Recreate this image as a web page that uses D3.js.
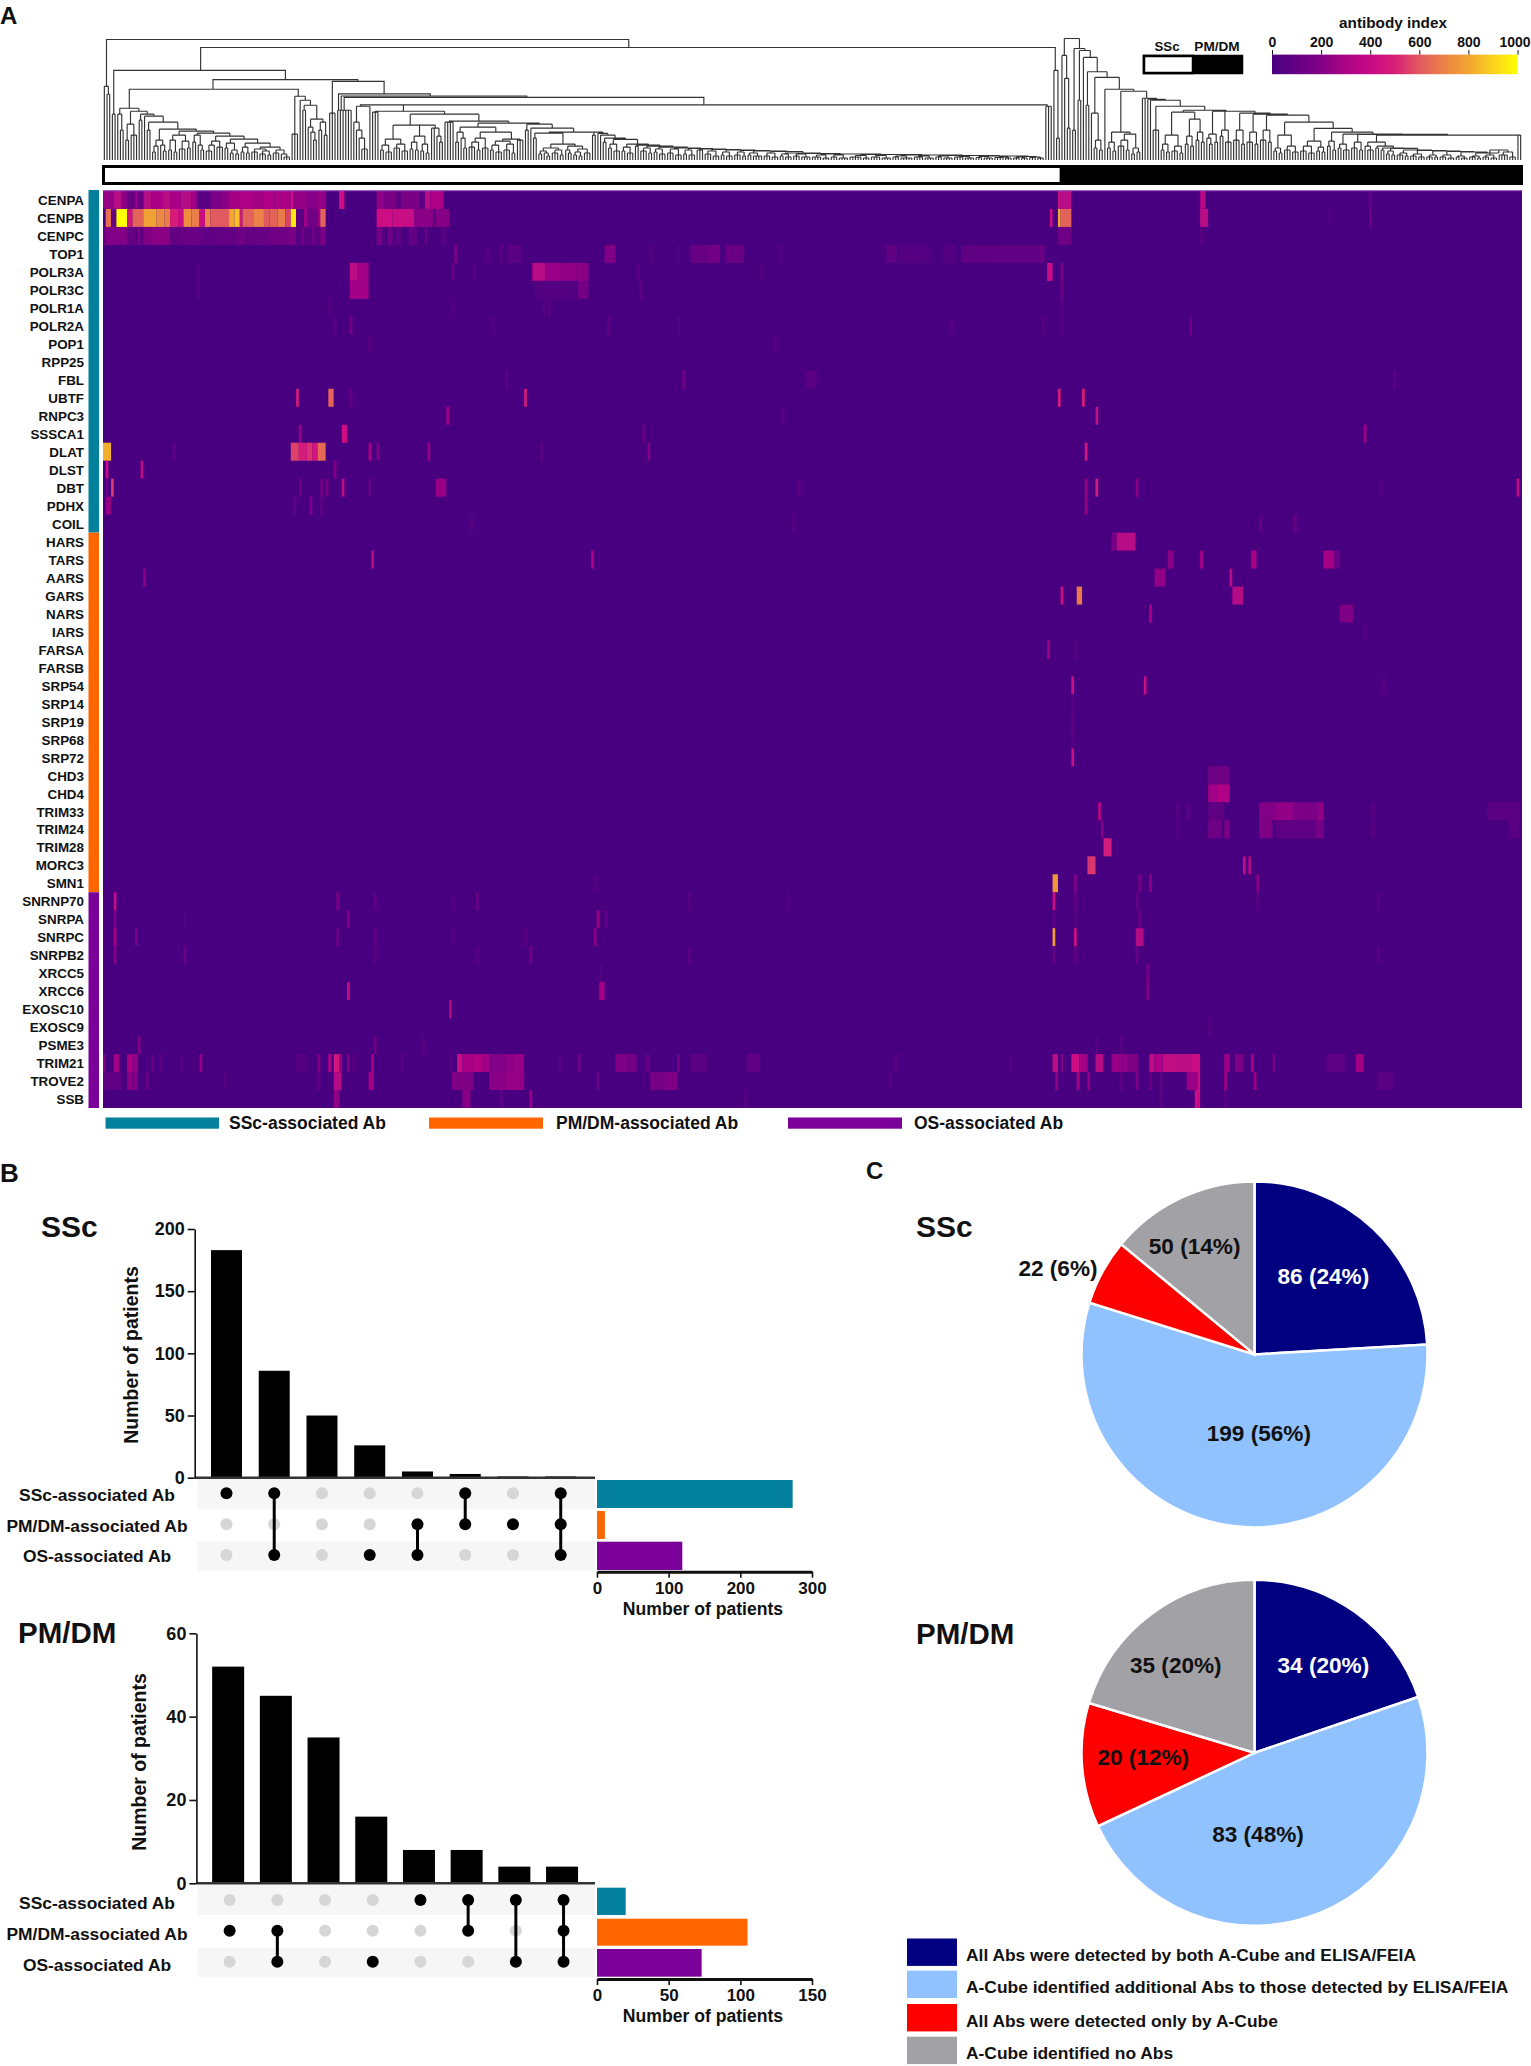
<!DOCTYPE html>
<html><head><meta charset="utf-8">
<script src="https://cdn.jsdelivr.net/npm/d3@7"></script>
<style>
html,body{margin:0;padding:0;background:#fff}
svg{display:block}
text{font-family:"Liberation Sans",Arial,sans-serif;font-weight:bold;fill:#111}
.ax path,.ax line{stroke:#111}
</style></head><body>
<svg id="c" width="1531" height="2066"></svg>
<script>
// ---------- DATA ----------
const rowNames=["CENPA","CENPB","CENPC","TOP1","POLR3A","POLR3C","POLR1A","POLR2A","POP1","RPP25","FBL","UBTF","RNPC3","SSSCA1","DLAT","DLST","DBT","PDHX","COIL",
"HARS","TARS","AARS","GARS","NARS","IARS","FARSA","FARSB","SRP54","SRP14","SRP19","SRP68","SRP72","CHD3","CHD4","TRIM33","TRIM24","TRIM28","MORC3","SMN1",
"SNRNP70","SNRPA","SNRPC","SNRPB2","XRCC5","XRCC6","EXOSC10","EXOSC9","PSME3","TRIM21","TROVE2","SSB"];
const groupNames=["SSc-associated Ab","PM/DM-associated Ab","OS-associated Ab"];
const groupSizes=[19,20,12];
const sscPatients=357, pmdmPatients=172;
const antibodyTicks=[0,200,400,600,800,1000];
const colorStops=[0,100,200,300,400,500,600,700,800,900,1000];
const colorValues=["#4a0080","#640084","#820085","#aa0585","#c80a85","#d71e78","#e15a5f","#eb8246","#f2a532","#fad21e","#ffff00"];

// each entry: [firstPatient, lastPatient, index] or [patient, index]
const segCENPA=[[0,4,250],[4,7,340],[7,9,220],[9,12,110],[12,13,260],[13,15,110],[15,18,330],[18,22,300],[22,25,340],[25,29,300],[29,33,330],[33,35,280],[35,40,60],[40,44,170],[44,47,220],[47,51,290],[51,56,310],[56,60,280],[60,64,320],[64,70,300],[70,71,410],[71,76,240],[76,80,200],[80,83,250],[83,84,30],[88,90,430],[102,105,230],[105,109,170],[109,111,80],[111,118,170],[118,120,70],[120,122,350],[122,127,310],[356,361,350],[409,411,340],[472,100]];
const segCENPB=[[1,3,650],[3,5,100],[5,9,1000],[9,11,450],[11,15,620],[15,20,790],[20,23,720],[23,25,690],[25,28,500],[28,30,420],[30,33,730],[33,36,690],[36,38,400],[38,40,700],[40,47,600],[47,49,800],[49,51,860],[51,52,450],[52,56,620],[56,60,700],[60,62,600],[62,65,620],[65,68,680],[68,70,560],[70,72,950],[72,75,60],[75,76,300],[76,80,140],[80,81,260],[81,83,620],[102,108,430],[108,116,400],[116,123,220],[123,124,80],[124,129,210],[353,400],[356,357,800],[357,361,620],[409,412,350],[457,40],[472,120]];
const segCENPC=[[0,1,110],[1,9,200],[9,12,100],[12,13,50],[13,14,200],[14,15,60],[15,18,190],[18,25,220],[25,29,100],[29,37,120],[37,42,90],[42,50,100],[50,53,140],[53,56,100],[56,62,110],[62,69,140],[69,72,170],[72,74,60],[74,75,150],[75,78,60],[78,79,150],[79,81,70],[81,83,180],[102,104,150],[104,105,50],[106,108,130],[109,111,90],[114,117,100],[120,121,110],[126,128,60],[356,361,130],[409,60]];
const segTOP1=[[131,200],[143,60],[148,70],[151,156,70],[187,191,190],[204,50],[214,50],[219,226,110],[226,230,150],[232,239,115],[252,70],[292,296,85],[297,308,40],[313,318,40],[320,332,75],[332,349,85],[349,351,125]];
const segPOLR3A=[[35,60],[92,95,360],[95,99,280],[130,110],[138,60],[160,165,340],[165,171,260],[171,176,240],[176,181,220],[199,70],[245,60],[352,354,400],[357,170]];
const segPOLR3C=[[35,60],[92,99,280],[161,176,35],[177,181,150],[200,90],[357,130]];
const segPOLR1A=[[84,50],[130,40],[164,50],[166,50],[357,70]];
const segPOLR2A=[[86,70],[92,150],[145,40],[188,100],[214,60],[316,60],[350,60],[357,60],[405,130]];
const segPOP1=[[99,60],[250,60]];
const segRPP25=[];
const segFBL=[[150,60],[216,150],[262,266,60],[481,60]];
const segUBTF=[[72,480],[84,86,620],[92,100],[157,470],[356,480],[365,500]];
const segRNPC3=[[128,280],[253,60],[370,400]];
const segSSSCA1=[[73,250],[89,91,430],[201,100],[470,280]];
const segDLAT=[[0,3,820],[26,90],[70,73,560],[73,76,480],[76,78,530],[78,80,470],[80,83,640],[99,300],[102,180],[121,122,250],[163,60],[203,210],[366,450]];
const segDLST=[[1,400],[14,350],[86,200]];
const segDBT=[[1,100],[3,550],[73,120],[81,150],[83,180],[89,350],[99,100],[124,128,260],[259,80],[366,250],[370,480],[385,220],[476,50],[527,350]];
const segPDHX=[[1,3,250],[71,100],[77,180],[81,90],[366,250]];
const segCOIL=[[137,60],[257,50],[431,100],[444,110]];
const segHARS=[[376,378,180],[378,385,340]];
const segTARS=[[100,350],[182,320],[397,399,220],[409,300],[428,430,300],[455,459,290],[459,461,130]];
const segAARS=[[15,220],[392,396,240],[420,350]];
const segGARS=[[357,430],[363,365,680],[421,425,330]];
const segNARS=[[390,300],[461,466,190]];
const segIARS=[[470,50]];
const segFARSA=[[352,280],[362,60]];
const segFARSB=[];
const segSRP54=[[361,420],[388,420],[477,60]];
const segSRP14=[[361,60]];
const segSRP19=[[361,100]];
const segSRP68=[[361,60]];
const segSRP72=[[361,400]];
const segCHD3=[[412,420,140]];
const segCHD4=[[412,415,280],[415,420,320]];
const segTRIM33=[[371,372,350],[400,70],[404,90],[412,418,75],[431,437,200],[437,444,240],[444,453,180],[453,455,240],[473,60],[516,528,70]];
const segTRIM24=[[372,200],[400,40],[412,417,140],[418,420,190],[431,436,190],[437,452,75],[452,455,150],[473,60],[524,528,60]];
const segTRIM28=[[373,376,480]];
const segMORC3=[[367,370,540],[425,426,380],[427,428,330]];
const segSMN1=[[183,50],[354,356,760],[362,200],[386,170],[390,220],[430,220]];
const segSNRNP70=[[4,380],[87,170],[101,90],[130,40],[139,120],[218,50],[255,40],[354,400],[362,100],[385,100],[430,60],[475,60]];
const segSNRPA=[[4,170],[30,50],[91,200],[184,260],[187,90],[354,70],[362,60],[386,110]];
const segSNRPC=[[4,300],[12,170],[87,120],[101,80],[130,50],[157,50],[183,220],[354,780],[362,430],[385,388,330]];
const segSNRPB2=[[4,210],[30,130],[101,70],[139,50],[159,130],[218,70],[354,100],[362,100],[385,120],[475,70]];
const segXRCC5=[[185,60],[389,170]];
const segXRCC6=[[91,380],[185,187,300],[389,200]];
const segEXOSC10=[[129,330]];
const segEXOSC9=[[412,60]];
const segPSME3=[[13,200],[101,130],[119,60],[370,60],[379,60]];
const segTRIM21=[[0,1,180],[4,6,280],[9,11,300],[11,13,250],[18,110],[21,80],[29,60],[36,260],[72,76,40],[80,200],[84,320],[86,88,450],[88,89,280],[91,200],[93,60],[100,300],[111,70],[129,60],[132,134,400],[134,138,300],[138,141,320],[141,144,280],[144,150,200],[150,153,230],[153,157,250],[170,60],[177,150],[191,195,190],[195,199,160],[202,204,80],[214,140],[219,225,70],[240,245,90],[295,80],[338,45],[354,356,360],[357,200],[361,364,430],[364,367,280],[370,373,340],[376,379,260],[379,382,230],[382,386,190],[390,392,360],[392,395,320],[395,400,380],[400,406,360],[406,409,430],[418,420,270],[422,425,190],[428,300],[436,150],[456,463,80],[467,470,280]];
const segTROVE2=[[0,7,90],[9,11,230],[11,13,200],[16,120],[45,50],[80,90],[86,89,330],[99,101,280],[130,138,190],[144,150,220],[150,157,250],[184,120],[204,209,160],[209,214,190],[293,50],[355,240],[363,290],[367,230],[379,90],[385,200],[390,110],[394,90],[404,408,260],[408,409,400],[418,270],[429,270],[475,481,60]];
const segSSB=[[86,88,240],[134,137,220],[148,90],[159,260],[239,60],[394,80],[407,409,400],[418,60]];
const heatRows=[segCENPA,segCENPB,segCENPC,segTOP1,segPOLR3A,segPOLR3C,segPOLR1A,segPOLR2A,segPOP1,segRPP25,segFBL,segUBTF,segRNPC3,segSSSCA1,segDLAT,segDLST,segDBT,segPDHX,segCOIL,segHARS,segTARS,segAARS,segGARS,segNARS,segIARS,segFARSA,segFARSB,segSRP54,segSRP14,segSRP19,segSRP68,segSRP72,segCHD3,segCHD4,segTRIM33,segTRIM24,segTRIM28,segMORC3,segSMN1,segSNRNP70,segSNRPA,segSNRPC,segSNRPB2,segXRCC5,segXRCC6,segEXOSC10,segEXOSC9,segPSME3,segTRIM21,segTROVE2,segSSB];

// Dendrogram: [height, child, child, ...]; a plain number n is n leaves joined at that node
const chain=(list,end)=>list.reduceRight((acc,[h,l])=>[h,l,acc],end);
const sscTail=chain([[26.7,1],[25,1],[22,[18,2]],[20.7,[16,[12,2],[9,3]]],[16,[13,[9,2],[7,3]]],[15,[14,2]],[14,[12,[9,3],[7,2]]],[13,[11,[8,2],[6,3]]],[12,[11,[7,3],[5,3]]],[11.5,[10,[6,2],[5,3]]],[11,[10,3]],[10.5,[9,[6,3],[4,3]]],[10,[8,[5,2],[4,3]]],[9.5,[8,[5,3],[4,2]]],[9,[7,[5,2],[4,4]]],[8.5,[7,[4,3],[3,3]]],[7,[6,[4,2],[3,3]]],[6.5,[6,[4,3],[3,4]]],[6,[5,[3,4],[2,3]]],[6,[5,[3,3],[2,4]]],[5.5,[4.5,[3,5],[2,3]]],[5.5,[4.5,[3,4],[2,4]]],[5,[4,[3,3],[2,5]]],[5,[4,[3,4],[2,4]]],[4.5,[4,[3,3],[2,4]]],[4.5,[3.5,[3,4],[2,4]]],[4,[3.5,[2.5,3],[2,4]]],[4,[3,[2.5,4],[2,3]]],[3.5,[3,[2,3],[2,3]]]],[3,[2.5,3],[2,3]]);
const sscN1=chain([[36,[30,2]],[32,1]],[28,[27,[22,2],[16,[12,[9,[6,2],[7,1,[4,2]]],[10,[7,3],[5,2]]],[14,[10,1,[7,2]],[11,[8,[5,2],[4,2]],[7,3]]]]],[28,[25,2],sscTail]]);
const sscW4=[28,[22,[18,[13,3],[10,2]],[12,3]],[21,[19,[15,[10,2],[8,3]],[16,[10,3],[7,2]]],[20,3]]];
const sscW=[46,[35,[21,[15,[10,2],[8,3]],[16,[12,3],[9,3]]],[35,[24,[18,[11,2],[10,2]],[16,[9,2],[7,2]]],[32,2,[24,1,[18,2]]]]],[39,[38,4],[37,[33,[28,[18,2],[22,1,[12,2]]],sscW4],sscN1]]];
const sscDLeft=[52,[46,1,[30,2]],[49,[36,[20,2],[25,3]],[46,[40,2],[44,1,[38,[30,2],[31,[20,[14,[8,2],1],[15,1,[9,2]]],[29,[25,[20,[10,2],[8,2]],[19,[11,3],[12,2]]],[27,[25,[18,2],[15,1,[10,2]]],[24,[19,[15,[9,3],1],[13,3]],[21,[17,[12,2],[10,[7,2],[6,2]]],[17,[13,[8,2],[7,2]],[13,[11,[8,3],[9,[6,3],[5,2]]],[10,[7,3],[6,1,[3,3]]]]]]]]]]]]]]];
const dendroSSc=[[74,1,[66,2]],[46,2],sscDLeft,[64,[26,3],[60,1,[55,[50,2],[41,[33,1,[28,1,[20,2]]],[38,[30,2],[25,2]]]]]],[47,3],[50,6],[54,[38,1,[30,1,[22,1,[11,3]]]],1],[49,[48,3],sscW],[54,3],[90,1,[22,2]]];
// long upper branches of the SSc tree: [height, leftPatient, rightPatient, leftFoot, rightFoot]
const dendroSpine=[[121,1.3,196,74,113],[113,36.4,355,90,90],[90,4,68,46,80.7],[80.7,41,95,71,79],[71,9.8,72.8,52,64],[79,85.5,104.8,47,66.4],[66.4,87.8,122,50,64.3],[64.3,88.8,158,50,62.9],[62.9,89.9,224,50,55.4],[55.4,96,352,54,54],[55.4,112,112,49,49]];

const pmR2=chain([[18,[14,1,[10,3]]],[14,[12,2]],[12,[10,2]],[11.7,[9,[6,2],[5,2]]],[10,[7,[5,3],[4,2]]],[9.5,[6,[4,3],[3,3]]],[9,[5,[3,3],[3,2]]],[8.5,[5,[3,3],[2,3]]],[8,[4,[3,2],[2,3]]],[7,[4,[3,3],[2,2]]]],[10,[5,[3,3],[2,3]],[8,[5,4],[3,3]]]);
const dendroPM=[122,[105,1,[82,1,[32,2]]],[112,[30,2],[110,[60,2],chain([[103,1],[88.6,[55,2]],[83,[47,1,[20,[12,2],[10,2]]]],[71,1],[69,[28,[18,[12,2],[9,2]],[26,[20,[14,3],[10,2]],[12,[6,2],[8,2]]]]],[62,1],[62,1],[61,1],[60,1],[54,[30,3]],[50,[48,[25,[16,[10,2],[8,2]],[14,[9,3],[7,2]]],[41,[24,[16,2],[14,2]],[28,[20,2],[18,2]]]]],[49,[26,[22,1,[16,2]],[18,2]]],[49,[30,[24,2],[18,3]]],[47,[30,[20,3],[16,2]]],[46,[28,[18,3],[16,2]]],[45,[30,[20,3],[18,2]]],[38,[25,[12,[9,2],[7,2]],[14,[10,3],[8,3]]]],[31.7,[19,[14,[9,3],[7,3]],[13,[9,2],[8,2]]]],[28,[19,[14,2],[10,2]]],[26,[16,[12,2],[10,3]]],[25.7,[18,[12,3],[10,2]]]],[25,pmR2,[25,2]])]]];

const upsetSets=["SSc-associated Ab","PM/DM-associated Ab","OS-associated Ab"];
const sscCounts=[183,86,50,26,5,3,1,1];
const sscMembers=[[0],[0,2],[],[2],[1,2],[0,1],[1],[0,1,2]];
const sscSetSizes=[273,11,119];
const sscYTicks=[0,50,100,150,200];
const sscXTicks=[0,100,200,300];
const pmCounts=[52,45,35,16,8,8,4,4];
const pmMembers=[[1],[1,2],[],[2],[0],[0,1],[0,2],[0,1,2]];
const pmSetSizes=[20,105,73];
const pmYTicks=[0,20,40,60];
const pmXTicks=[0,50,100,150];

const pieCategories=["All Abs were detected by both A-Cube and ELISA/FEIA","A-Cube identified additional Abs to those detected by ELISA/FEIA","All Abs were detected only by A-Cube","A-Cube identified no Abs"];
const pieSSc=[86,199,22,50];
const piePM=[34,83,20,35];
const piePercentSSc=[24,56,6,14];
const piePercentPM=[20,48,12,20];
const pieColors=["#000080","#90c2ff","#ff0000","#a1a1a6"];
const groupColors=["#02809c","#ff6600","#7a0099"];

// ---------- DRAW ----------
const svg=d3.select("#c");
const L={hx0:103,hx1:1522,hy0:191,hy1:1108};
const x=d3.scaleLinear().domain([0,sscPatients+pmdmPatients]).range([L.hx0,L.hx1]);
const y=d3.scaleBand().domain(rowNames).range([L.hy0,L.hy1]);
const color=d3.scaleLinear().domain(colorStops).range(colorValues).clamp(true);
const text=(g,t,px,py,size,anchor="start",fill="#111")=>g.append("text").attr("x",px).attr("y",py).attr("font-size",size).attr("text-anchor",anchor).style("fill",fill).text(t);

text(svg,"A",0,24,24); text(svg,"B",0,1182,26); text(svg,"C",866,1179,24);

const defs=svg.append("defs");
defs.append("clipPath").attr("id","hclip").append("rect").attr("x",L.hx0).attr("y",L.hy0).attr("width",L.hx1-L.hx0).attr("height",L.hy1-L.hy0);
defs.append("filter").attr("id","soft").attr("filterUnits","userSpaceOnUse").attr("x",L.hx0-5).attr("y",L.hy0-5).attr("width",L.hx1-L.hx0+10).attr("height",L.hy1-L.hy0+10)
  .append("feGaussianBlur").attr("stdDeviation","0.75 0.5");

// heatmap
const hm=svg.append("g");
hm.append("rect").attr("x",L.hx0).attr("y",L.hy0).attr("width",L.hx1-L.hx0).attr("height",L.hy1-L.hy0).attr("fill",color(0));
const hmCells=hm.append("g").attr("clip-path","url(#hclip)").append("g").attr("filter","url(#soft)");
hmCells.append("rect").attr("x",L.hx0).attr("y",L.hy0).attr("width",L.hx1-L.hx0).attr("height",L.hy1-L.hy0).attr("fill",color(0));
heatRows.forEach((segs,i)=>{
  hmCells.selectAll(null).data(segs).join("rect")
    .attr("x",d=>x(d[0]))
    .attr("width",d=>d.length===2?x(d[0]+1)-x(d[0]):x(d[1])-x(d[0]))
    .attr("y",y(rowNames[i])).attr("height",y.bandwidth())
    .attr("fill",d=>color(d[d.length-1]));
});
hm.append("rect").attr("x",L.hx0).attr("y",L.hy0-1).attr("width",L.hx1-L.hx0).attr("height",1.2).attr("fill","#9a5cc0");
hm.selectAll(null).data(rowNames).join("text").attr("x",84).attr("y",d=>y(d)+y.bandwidth()/2+0.5).attr("dy",".35em").attr("text-anchor","end").attr("font-size",13.4).text(d=>d);
// side bar
let start=0;
groupSizes.forEach((n,i)=>{
  const a=y(rowNames[start]),b=y(rowNames[start+n-1])+y.bandwidth();
  svg.append("rect").attr("x",88.5).attr("width",10.5).attr("y",a-(i?0:1)).attr("height",b-a+(i?0:1)).attr("fill",groupColors[i]);
  start+=n;
});
// group legend
const leg=[[105.5,219,229],[429,543,556],[788,902,914]];
groupNames.forEach((n,i)=>{
  svg.append("rect").attr("x",leg[i][0]).attr("y",1117.5).attr("width",leg[i][1]-leg[i][0]).attr("height",11.2).attr("fill",groupColors[i]);
  text(svg,n,leg[i][2],1129,17.5);
});

// annotation bar
svg.append("rect").attr("x",x(0)+.5).attr("y",166.5).attr("width",x(sscPatients)-x(0)).attr("height",17).attr("fill","#fff").attr("stroke","#000").attr("stroke-width",3);
svg.append("rect").attr("x",x(sscPatients)).attr("y",165).attr("width",x(sscPatients+pmdmPatients)-x(sscPatients)+1).attr("height",20).attr("fill","#000");

// dendrogram
const hy=d3.scaleLinear().domain([0,121]).range([160,39.5]);
const toNode=s=>{
  if(typeof s==="number") return {h:0};
  const kids=[];
  s.slice(1).forEach(c=>{ if(typeof c==="number"){for(let i=0;i<c;i++)kids.push({h:0});} else kids.push(toNode(c)); });
  return {h:s[0],children:kids};
};
let leafIndex=0;
const drawTree=(spec,g)=>{
  const root=d3.hierarchy(toNode(spec));
  root.eachAfter(n=>{
    if(!n.children){n.px=leafIndex+.5;leafIndex++;}
    else n.px=(n.children[0].px+n.children[n.children.length-1].px)/2;
  });
  const p=d3.path();
  root.each(n=>{
    if(!n.children) return;
    const a=n.children[0],b=n.children[n.children.length-1];
    p.moveTo(x(a.px),hy(n.data.h)); p.lineTo(x(b.px),hy(n.data.h));
    n.children.forEach(c=>{p.moveTo(x(c.px),hy(n.data.h)); p.lineTo(x(c.px),hy(c.data.h));});
  });
  g.append("path").attr("d",p.toString()).attr("fill","none").attr("stroke","#333").attr("stroke-width",1.15);
};
const dg=svg.append("g");
dendroSSc.forEach(t=>drawTree(t,dg));
leafIndex=sscPatients;
drawTree(dendroPM,dg);
const spinePath=d3.path();
dendroSpine.forEach(([h,a,b,fa,fb])=>{
  spinePath.moveTo(x(a),hy(fa));spinePath.lineTo(x(a),hy(h));spinePath.lineTo(x(b),hy(h));spinePath.lineTo(x(b),hy(fb));
});
dg.append("path").attr("d",spinePath.toString()).attr("fill","none").attr("stroke","#333").attr("stroke-width",1.15);

// SSc / PM-DM key
svg.append("rect").attr("x",1144).attr("y",56).attr("width",98).attr("height",17).attr("fill","#000").attr("stroke","#000").attr("stroke-width",2.5);
svg.append("rect").attr("x",1144).attr("y",56).attr("width",49).attr("height",17).attr("fill","#fff").attr("stroke","#000").attr("stroke-width",2.5);
text(svg,"SSc",1167,51,13.3,"middle"); text(svg,"PM/DM",1217,51,13.6,"middle");

// colour bar
const cb=d3.scaleLinear().domain([0,1000]).range([1272,1517.5]);
const grad=defs.append("linearGradient").attr("id","cbg");
colorStops.forEach((s,i)=>grad.append("stop").attr("offset",s/1000).attr("stop-color",colorValues[i]));
svg.append("rect").attr("x",cb(0)).attr("y",54.6).attr("width",cb(1000)-cb(0)).attr("height",19.6).attr("fill","url(#cbg)");
const cbAxis=svg.append("g").attr("class","ax").attr("transform","translate(0,54.6)").call(d3.axisTop(cb).tickValues(antibodyTicks).tickFormat(d3.format("d")).tickSize(4.5).tickPadding(3));
cbAxis.select(".domain").remove();
cbAxis.selectAll("text").attr("font-size",14).style("font-family","Liberation Sans").style("font-weight","bold")
  .attr("dx",d=>d===1000?-3:0);
text(svg,"antibody index",1393,28,15.3,"middle");

// UpSet panels
function upset(o){
  const g=svg.append("g");
  const band=d3.scaleBand().domain(d3.range(o.counts.length)).range([o.bx0,o.bx0+o.step*8]).paddingInner(1-o.barW/o.step).paddingOuter((1-o.barW/o.step)/2);
  const yS=d3.scaleLinear().domain([0,d3.max(o.yTicks)]).range([o.y0,o.yTop]);
  o.stripes.forEach(([a,b])=>g.append("rect").attr("x",197.5).attr("y",a).attr("width",397.5).attr("height",b-a).attr("fill","#f6f6f6"));
  g.selectAll(null).data(o.counts).join("rect").attr("x",(d,i)=>band(i)).attr("width",band.bandwidth()).attr("y",d=>yS(d)).attr("height",d=>o.y0-yS(d)).attr("fill","#000");
  g.append("line").attr("x1",o.axX).attr("x2",595).attr("y1",o.y0).attr("y2",o.y0).attr("stroke","#333").attr("stroke-width",2.5);
  const ax=g.append("g").attr("class","ax").attr("transform",`translate(${o.axX},0)`).call(d3.axisLeft(yS).tickValues(o.yTicks).tickSize(7).tickSizeOuter(0).tickPadding(3));
  ax.selectAll("path,line").attr("stroke-width",1.6);
  ax.selectAll("text").attr("font-size",18).style("font-family","Liberation Sans").style("font-weight","bold");
  g.append("text").attr("transform",`translate(${o.titleX},${o.titleY}) rotate(-90)`).attr("text-anchor","middle").attr("font-size",19.5).text("Number of patients");
  const cx=i=>band(i)+band.bandwidth()/2+o.dotShift;
  o.members.forEach((m,i)=>{
    o.rows.forEach((ry,r)=>g.append("circle").attr("cx",cx(i)).attr("cy",ry).attr("r",6).attr("fill",m.includes(r)?"#000":"#d6d6d6"));
    if(m.length>1) g.append("line").attr("x1",cx(i)).attr("x2",cx(i)).attr("y1",o.rows[d3.min(m)]).attr("y2",o.rows[d3.max(m)]).attr("stroke","#000").attr("stroke-width",3);
  });
  upsetSets.forEach((s,r)=>text(g,s,97,o.labelY[r],17.4,"middle"));
  const xS=d3.scaleLinear().domain([0,d3.max(o.xTicks)]).range([597,812]);
  g.selectAll(null).data(o.sizes).join("rect").attr("x",xS(0)).attr("y",(d,i)=>o.hBars[i][0]).attr("height",(d,i)=>o.hBars[i][1]-o.hBars[i][0]).attr("width",d=>xS(d)-xS(0)).attr("fill",(d,i)=>groupColors[i]);
  const bx=g.append("g").attr("class","ax").attr("transform",`translate(0,${o.axY})`).call(d3.axisBottom(xS).tickValues(o.xTicks).tickSize(6).tickSizeOuter(0).tickPadding(4));
  bx.select(".domain").attr("stroke-width",3);
  bx.selectAll("line").attr("stroke-width",1.6);
  bx.selectAll("text").attr("font-size",17).style("font-family","Liberation Sans").style("font-weight","bold");
  text(g,"Number of patients",703,o.axY+43,17.6,"middle");
}
upset({counts:sscCounts,members:sscMembers,sizes:sscSetSizes,yTicks:sscYTicks,xTicks:sscXTicks,bx0:202.6,step:47.75,barW:31,axX:194.7,y0:1477.7,yTop:1229,dotShift:0,titleX:138,titleY:1355,stripes:[[1479,1509.3],[1542,1570.7]],rows:[1493.3,1524.3,1555],labelY:[1501,1532,1562],hBars:[[1480,1508],[1511,1539],[1541.7,1570]],axY:1571.7});
upset({counts:pmCounts,members:pmMembers,sizes:pmSetSizes,yTicks:pmYTicks,xTicks:pmXTicks,bx0:204.3,step:47.7,barW:32,axX:196.4,y0:1883.3,yTop:1633.3,dotShift:1.5,titleX:146,titleY:1762,stripes:[[1885,1915],[1948.3,1977.3]],rows:[1900,1930.7,1961.7],labelY:[1909,1940,1971],hBars:[[1887.7,1915],[1918.7,1945.7],[1949,1976.7]],axY:1979});
text(svg,"SSc",41,1237,30); text(svg,"PM/DM",18,1643,29.5);

// pies
function pie(vals,pct,cx,cy,labels){
  const g=svg.append("g").attr("transform",`translate(${cx},${cy})`);
  const arcs=d3.pie().sort(null).value(d=>d)(vals);
  g.selectAll(null).data(arcs).join("path").attr("d",d3.arc().innerRadius(0).outerRadius(173)).attr("fill",(d,i)=>pieColors[i]).attr("stroke","#fff").attr("stroke-width",2.5);
  vals.forEach((v,i)=>text(svg,`${v} (${pct[i]}%)`,labels[i][0],labels[i][1]+7.5,22.6,"middle",i===0?"#fff":"#111"));
}
pie(pieSSc,piePercentSSc,1254.5,1354.4,[[1323.4,1276.8],[1258.8,1433.3],[1058,1268.6],[1194.6,1246.4]]);
pie(piePM,piePercentPM,1254.5,1752.8,[[1323.4,1665],[1258,1834.6],[1143.3,1757.5],[1175.8,1665]]);
text(svg,"SSc",916,1237,30); text(svg,"PM/DM",916,1644,29.5);

// pie legend
const legY=[1938.5,1970.6,2004,2036.7];
pieCategories.forEach((c,i)=>{
  svg.append("rect").attr("x",907).attr("y",legY[i]).attr("width",50).attr("height",27.4).attr("fill",pieColors[i]);
  text(svg,c,966,legY[i]+22.5,17.4);
});
</script>
</body></html>
